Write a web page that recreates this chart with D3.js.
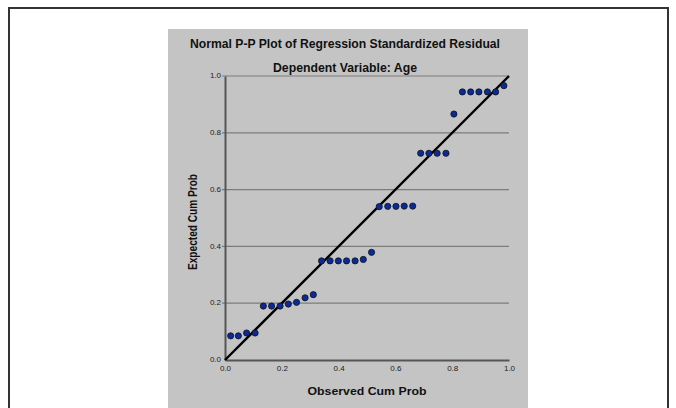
<!DOCTYPE html>
<html>
<head>
<meta charset="utf-8">
<script src="https://cdn.jsdelivr.net/npm/d3@7"></script>
<style>
  body { margin: 0; background: #fff; }
  svg { display: block; font-family: "Liberation Sans", Arial, sans-serif; }
</style>
</head>
<body>
<div class="chart"></div>
<script>
// observed vs expected cumulative probabilities
var observed = [0.020, 0.047, 0.076, 0.106, 0.135, 0.164, 0.194, 0.223, 0.252, 0.282, 0.311,
  0.340, 0.370, 0.399, 0.428, 0.458, 0.487, 0.516,
  0.543, 0.573, 0.602, 0.631, 0.661,
  0.689, 0.718, 0.747, 0.778,
  0.806,
  0.836, 0.865, 0.894, 0.924, 0.953,
  0.982];
var expected = [0.085, 0.085, 0.095, 0.095, 0.190, 0.190, 0.190, 0.197, 0.203, 0.219, 0.230,
  0.349, 0.349, 0.349, 0.349, 0.349, 0.354, 0.379,
  0.540, 0.541, 0.541, 0.542, 0.542,
  0.728, 0.728, 0.728, 0.728,
  0.866,
  0.944, 0.944, 0.944, 0.944, 0.944,
  0.966];
var tickValues = [0, 0.2, 0.4, 0.6, 0.8, 1.0];
var reference = [0, 1];

var width = 676, height = 408;

var svg = d3.select('.chart').append('svg').attr('width', width).attr('height', height);

// outer frame (runs off the bottom)
svg.append('rect')
  .attr('x', 9).attr('y', 8).attr('width', 659).attr('height', 420)
  .attr('fill', '#fff').attr('stroke', '#333').attr('stroke-width', 2);

// gray chart panel
svg.append('rect')
  .attr('x', 168).attr('y', 29).attr('width', 360).attr('height', 390)
  .attr('fill', '#c4c4c4');

var x = d3.scaleLinear().domain([0, 1]).range([225, 509]);
var y = d3.scaleLinear().domain([0, 1]).range([360, 76]);

// horizontal grid lines
svg.append('g')
  .selectAll('line')
  .data(tickValues.slice(1))
  .enter().append('line')
  .attr('x1', x(0) - 3).attr('x2', x(1))
  .attr('y1', function (d) { return y(d); })
  .attr('y2', function (d) { return y(d); })
  .attr('stroke', '#7c7c7c').attr('stroke-width', 1.2);

// axes
var yAxis = svg.append('g').attr('transform', 'translate(' + x(0) + ',0)')
  .call(d3.axisLeft(y).tickValues(tickValues).tickFormat(d3.format('.1f')).tickSize(0).tickPadding(4));
var xAxis = svg.append('g').attr('transform', 'translate(0,' + y(0) + ')')
  .call(d3.axisBottom(x).tickValues(tickValues).tickFormat(d3.format('.1f')).tickSize(0).tickPadding(5));

[xAxis, yAxis].forEach(function (a) {
  a.select('.domain').attr('stroke', '#555').attr('stroke-width', 2);
  a.selectAll('text').attr('font-size', 8).attr('fill', '#222')
    .attr('font-family', '"Liberation Sans", Arial, sans-serif');
});
yAxis.selectAll('text').attr('dy', '0.2em');

// reference diagonal
svg.append('line')
  .attr('x1', x(reference[0])).attr('y1', y(reference[0]))
  .attr('x2', x(reference[1])).attr('y2', y(reference[1]))
  .attr('stroke', '#000').attr('stroke-width', 2.4);

// points
svg.append('g')
  .selectAll('circle')
  .data(observed)
  .enter().append('circle')
  .attr('cx', function (d) { return x(d); })
  .attr('cy', function (d, i) { return y(expected[i]); })
  .attr('r', 3.1)
  .attr('fill', '#0a2a9c')
  .attr('stroke', '#111').attr('stroke-width', 0.8);

// titles
svg.append('text').attr('x', 345).attr('y', 48)
  .attr('text-anchor', 'middle').attr('font-size', 12).attr('font-weight', 'bold')
  .attr('fill', '#111')
  .attr('textLength', 310).attr('lengthAdjust', 'spacingAndGlyphs')
  .text('Normal P-P Plot of Regression Standardized Residual');

svg.append('text').attr('x', 345).attr('y', 72)
  .attr('text-anchor', 'middle').attr('font-size', 12).attr('font-weight', 'bold')
  .attr('fill', '#111')
  .attr('textLength', 144).attr('lengthAdjust', 'spacingAndGlyphs')
  .text('Dependent Variable: Age');

svg.append('text').attr('x', 367).attr('y', 395)
  .attr('text-anchor', 'middle').attr('font-size', 11.5).attr('font-weight', 'bold')
  .attr('fill', '#111')
  .attr('textLength', 119).attr('lengthAdjust', 'spacingAndGlyphs')
  .text('Observed Cum Prob');

svg.append('text')
  .attr('transform', 'translate(197,222) rotate(-90)')
  .attr('text-anchor', 'middle').attr('font-size', 12).attr('font-weight', 'bold')
  .attr('fill', '#111')
  .attr('textLength', 96).attr('lengthAdjust', 'spacingAndGlyphs')
  .text('Expected Cum Prob');
</script>
</body>
</html>
